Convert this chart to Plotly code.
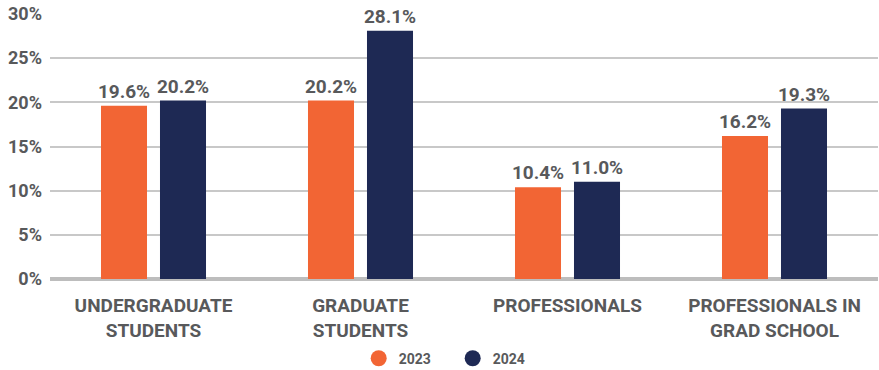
import plotly.graph_objects as go

categories = ["UNDERGRADUATE<br>STUDENTS", "GRADUATE<br>STUDENTS",
              "PROFESSIONALS", "PROFESSIONALS IN<br>GRAD SCHOOL"]
series_names = ["2023", "2024"]
values_2023 = [19.6, 20.2, 10.4, 16.2]
values_2024 = [20.2, 28.1, 11.0, 19.3]
y_ticks = [0, 5, 10, 15, 20, 25, 30]
y_tick_labels = [f"{v}%" for v in y_ticks]

colors = {"2023": "#F26534", "2024": "#1E2954"}
text_color = "#58595B"
font_family = "Roboto, Arial, sans-serif"

fig = go.Figure()
for name, vals in zip(series_names, [values_2023, values_2024]):
    fig.add_trace(go.Bar(
        x=categories, y=vals, name=name,
        marker=dict(color=colors[name], line=dict(width=0)),
        texttemplate="%{y:.1f}%", textposition="outside", constraintext="none",
        textfont=dict(size=19, color=text_color, family=font_family, weight="bold"),
        cliponaxis=False, showlegend=False,
    ))
    # circular legend swatch
    fig.add_trace(go.Scatter(
        x=[None], y=[None], mode="markers", name=name,
        marker=dict(symbol="circle", size=17, color=colors[name]),
        showlegend=True,
    ))

fig.update_layout(
    width=879, height=370,
    margin=dict(l=50, r=1, t=14, b=91, autoexpand=False),
    paper_bgcolor="white", plot_bgcolor="white",
    barmode="group", bargap=0.43, bargroupgap=0.22,
    font=dict(family=font_family, color=text_color, weight="bold"),
    legend=dict(orientation="h", xref="container", x=0.515, xanchor="center",
                yref="container", y=0.074, yanchor="top",
                font=dict(size=14, color=text_color, family=font_family, weight="bold"),
                entrywidth=49, itemwidth=30),
    xaxis=dict(
        tickfont=dict(size=19, color=text_color, family=font_family, weight="bold"),
        showline=False, ticks="", showgrid=False, automargin=False,
        ticklabelstandoff=13,
    ),
    yaxis=dict(
        range=[0, 30], tickvals=y_ticks, ticktext=y_tick_labels,
        tickfont=dict(size=18, color=text_color, family=font_family, weight="bold"),
        showgrid=True, gridcolor="#C8C8C8", gridwidth=2,
        zeroline=True, zerolinecolor="#BDBDBD", zerolinewidth=4,
        showline=False, ticks="", ticklabelstandoff=7, automargin=False,
    ),
)

fig.write_html("out.html")
